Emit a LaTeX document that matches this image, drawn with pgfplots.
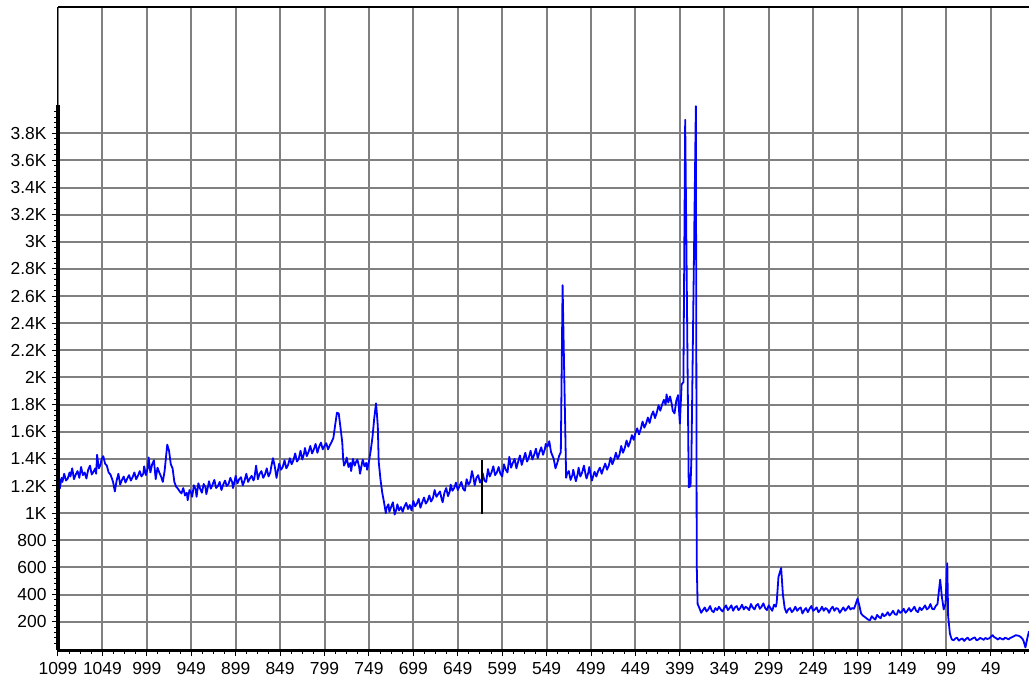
\documentclass[border=0pt]{standalone}
\usepackage{fontspec}
\setmainfont{Liberation Sans}
\usepackage{pgfplots}
\usepackage{pgfplotstable}
\pgfplotsset{compat=1.18}
\definecolor{gridgray}{RGB}{128,128,128}
\definecolor{traceblue}{RGB}{0,0,255}

% Trace samples (index, counts)
\pgfplotstableread{
x y
1099 1240
1098 1275
1097 1180
1095 1260
1094 1230
1092 1290
1090 1240
1088 1255
1086 1300
1085 1270
1083 1330
1081 1250
1079 1285
1077 1310
1075 1260
1073 1340
1071 1280
1069 1300
1067 1255
1065 1320
1063 1350
1061 1285
1059 1305
1057 1330
1056 1290
1055 1430
1053 1330
1051 1360
1050 1395
1048 1420
1046 1365
1044 1350
1042 1300
1040 1285
1038 1250
1037 1230
1035 1160
1033 1240
1031 1290
1029 1210
1027 1245
1025 1270
1023 1225
1021 1255
1019 1280
1017 1240
1015 1265
1013 1300
1011 1250
1009 1275
1007 1310
1005 1270
1003 1290
1002 1345
1000 1280
998 1330
997 1410
995 1300
993 1360
991 1390
989 1250
987 1335
985 1300
983 1270
981 1230
979 1310
977 1440
976 1505
974 1460
972 1360
970 1330
968 1230
966 1195
964 1180
962 1160
960 1145
958 1185
956 1130
954 1150
953 1095
951 1170
949 1150
948 1120
946 1205
944 1175
943 1120
941 1220
939 1180
937 1150
935 1215
933 1190
932 1140
930 1200
929 1235
927 1180
925 1210
923 1245
921 1185
919 1200
917 1230
915 1170
913 1210
911 1240
909 1200
907 1215
905 1260
903 1230
902 1185
900 1240
899 1275
897 1220
895 1250
893 1265
891 1205
889 1240
887 1290
885 1230
883 1255
881 1275
879 1240
878 1255
876 1350
874 1250
872 1290
870 1310
868 1260
866 1285
864 1330
862 1270
860 1300
859 1340
857 1405
855 1345
853 1260
851 1330
850 1365
848 1320
846 1340
844 1390
842 1330
840 1355
838 1405
836 1360
834 1390
832 1440
830 1380
828 1400
826 1460
824 1395
822 1440
821 1480
819 1420
817 1450
815 1495
813 1440
811 1470
809 1510
807 1445
805 1490
803 1520
801 1470
799 1495
797 1515
795 1470
793 1500
791 1525
789 1555
787 1650
785 1740
783 1735
781 1630
779 1520
778 1400
777 1350
775 1380
774 1410
772 1340
770 1370
769 1310
767 1400
765 1350
764 1370
762 1395
760 1340
759 1290
757 1360
756 1395
754 1345
752 1370
751 1320
749 1380
747 1460
745 1560
743 1700
741 1810
740 1730
739 1640
738 1380
736 1250
734 1150
732 1080
730 1000
729 1040
727 1065
726 1010
724 1045
722 1080
720 990
718 1030
717 1065
715 1020
713 1045
711 1010
709 1050
707 1075
705 1030
703 1060
701 1020
699 1090
697 1050
695 1070
693 1105
691 1040
689 1080
687 1115
685 1070
683 1090
681 1130
679 1085
677 1110
675 1170
673 1120
671 1140
669 1160
667 1100
666 1080
664 1150
662 1185
660 1125
658 1160
657 1210
655 1165
653 1185
651 1225
649 1170
647 1200
645 1230
643 1180
641 1165
639 1250
637 1210
635 1230
633 1310
631 1250
630 1205
628 1260
626 1280
624 1225
622 1250
621 1295
619 1240
617 1230
615 1325
613 1270
611 1300
609 1345
607 1280
605 1300
603 1340
601 1290
599 1270
597 1360
595 1320
593 1300
591 1415
589 1335
587 1370
585 1400
583 1330
581 1380
579 1425
577 1355
575 1400
573 1445
571 1380
569 1410
567 1460
565 1395
563 1430
561 1475
559 1405
557 1450
555 1485
553 1430
551 1470
550 1510
548 1490
546 1530
544 1450
541 1400
539 1330
537 1370
535 1420
533 1450
531 2680
527 1260
526 1290
524 1310
522 1245
520 1280
519 1320
517 1260
516 1235
514 1290
513 1335
511 1270
509 1300
507 1350
505 1280
504 1255
502 1300
501 1340
499 1270
498 1240
496 1285
495 1305
493 1270
491 1310
489 1335
487 1290
485 1330
483 1365
481 1320
479 1350
477 1410
475 1360
473 1395
471 1445
469 1400
467 1430
465 1495
463 1445
461 1480
459 1535
457 1490
455 1525
453 1575
451 1540
449 1590
447 1625
445 1580
443 1620
441 1675
439 1630
437 1660
435 1705
433 1665
431 1720
429 1750
427 1700
425 1740
423 1795
421 1755
419 1800
417 1835
415 1800
414 1875
412 1815
410 1860
408 1800
407 1755
405 1735
403 1830
401 1870
399 1660
397 1950
395 1965
393 3900
389 1190
387 1200
386 1400
381 4000
380 620
379 330
377 300
375 265
373 285
371 305
369 275
367 290
365 315
363 280
361 270
359 300
357 285
355 310
353 290
351 275
349 300
347 320
345 285
343 300
341 320
339 280
337 305
335 315
333 285
331 300
329 325
327 290
325 310
323 300
321 285
319 330
317 305
315 290
313 320
311 330
309 295
307 310
305 335
303 300
301 285
299 320
297 300
295 280
293 325
291 310
290 340
288 530
285 595
283 400
281 300
279 265
277 290
275 300
273 270
271 285
269 310
267 280
265 295
263 305
261 260
259 285
257 300
255 270
253 295
251 315
249 280
247 290
245 305
243 270
241 285
239 310
237 280
235 300
233 290
231 265
229 295
227 310
225 280
223 300
221 295
219 265
217 285
215 305
213 280
211 295
209 315
207 290
205 300
203 295
201 330
199 370
197 320
195 260
193 245
191 235
189 225
187 215
185 210
183 240
181 225
179 215
177 250
175 235
173 225
171 260
169 240
167 250
165 270
163 245
161 260
159 280
157 255
155 250
153 285
151 265
149 275
147 295
145 265
143 280
141 300
139 275
137 290
135 310
133 280
131 270
129 305
127 285
125 300
123 320
121 290
119 300
117 330
115 295
113 290
111 315
109 330
107 450
106 510
104 380
102 290
100 330
98 630
97 240
95 110
93 70
91 62
89 75
87 82
85 60
83 70
81 76
79 58
77 72
75 82
73 64
71 70
69 78
67 84
65 62
63 68
61 80
59 74
57 66
55 80
53 72
51 76
49 88
47 100
45 85
43 78
41 68
39 80
37 74
35 68
33 82
31 76
29 70
27 80
25 86
23 92
21 100
19 98
17 94
15 85
13 70
12 55
10 10
8 75
6 130
}\tracedata

\begin{document}
\begin{tikzpicture}
\begin{axis}[
  scale only axis,
  width=971bp, height=643bp,
  x dir=reverse,
  xmin=6, xmax=1099,
  ymin=-9, ymax=4731,
  axis x line*=bottom,
  axis y line*=left,
  x axis line style={line width=3bp, -},
  y axis line style={line width=1bp, -},
  xtick={49,99,...,1099},
  xticklabels={49,99,149,199,249,299,349,399,449,499,549,599,649,699,749,799,849,899,949,999,1049,1099},
  minor xtick={11.5,24,...,1099},
  ytick={200,400,...,3800},
  yticklabels={200,400,600,800,1K,1.2K,1.4K,1.6K,1.8K,2K,2.2K,2.4K,2.6K,2.8K,3K,3.2K,3.4K,3.6K,3.8K},
  minor ytick={40,80,...,3960},
  tick align=outside,
  major tick length=6bp,
  minor tick length=3.5bp,
  tick style={black, line width=1bp},
  xmajorgrids, ymajorgrids,
  major grid style={gridgray, line width=2bp},
  ticklabel style={font=\fontsize{17.5}{18}\selectfont},
  xticklabel style={yshift=-3bp},
  yticklabel style={xshift=-2bp},
  clip=true,
]
\addplot[traceblue, line width=1.8bp, line join=round] table[x=x, y=y] {\tracedata};
\addplot[black, line width=2bp] coordinates {(622,990) (622,1390)};
\coordinate (sw) at (rel axis cs:0,0);
\coordinate (ne) at (rel axis cs:1,1);
\coordinate (yt) at (axis cs:1099,4006);
\end{axis}
\draw[line width=2bp] (sw |- ne) -- (ne);
\draw[line width=3bp] (sw) -- (yt);
\pgfresetboundingbox
\path ([shift={(-58bp,-34bp)}]sw) rectangle ([shift={(0bp,7bp)}]ne);
\end{tikzpicture}
\end{document}
